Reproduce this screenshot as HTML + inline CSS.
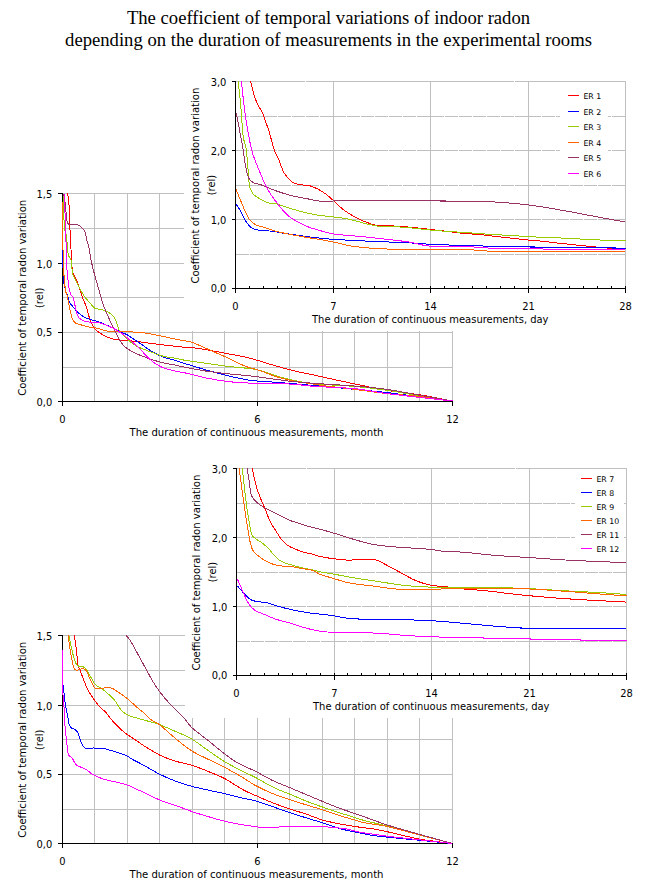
<!DOCTYPE html>
<html><head><meta charset="utf-8"><title>Coefficient of temporal variations of indoor radon</title>
<style>
html,body{margin:0;padding:0;background:#fff;}
body{width:646px;height:896px;overflow:hidden;position:relative;}
.title{position:absolute;left:0;width:657px;top:7px;text-align:center;font-family:'Liberation Serif','Times New Roman',serif;font-size:18.67px;line-height:21.7px;color:#000;}
.title div{white-space:nowrap;}
svg{position:absolute;left:0;top:0;}
svg text{font-family:'DejaVu Sans Condensed', 'DejaVu Sans', 'Liberation Sans', sans-serif;fill:#000;}
</style></head><body>
<div class="title"><div>The coefficient of temporal variations of indoor radon</div><div>depending on the duration of measurements in the experimental rooms</div></div>
<svg width="646" height="896" viewBox="0 0 646 896">
<rect x="63" y="193" width="390" height="1" fill="#C0C0C0"/>
<rect x="63" y="228" width="390" height="1" fill="#C0C0C0"/>
<rect x="63" y="263" width="390" height="1" fill="#C0C0C0"/>
<rect x="63" y="297" width="390" height="1" fill="#C0C0C0"/>
<rect x="63" y="332" width="390" height="1" fill="#C0C0C0"/>
<rect x="63" y="367" width="390" height="1" fill="#C0C0C0"/>
<rect x="94" y="193" width="1" height="208" fill="#C0C0C0"/>
<rect x="127" y="193" width="1" height="208" fill="#C0C0C0"/>
<rect x="159" y="193" width="1" height="208" fill="#C0C0C0"/>
<rect x="192" y="193" width="1" height="208" fill="#C0C0C0"/>
<rect x="224" y="193" width="1" height="208" fill="#C0C0C0"/>
<rect x="257" y="193" width="1" height="208" fill="#C0C0C0"/>
<rect x="289" y="193" width="1" height="208" fill="#C0C0C0"/>
<rect x="322" y="193" width="1" height="208" fill="#C0C0C0"/>
<rect x="354" y="193" width="1" height="208" fill="#C0C0C0"/>
<rect x="387" y="193" width="1" height="208" fill="#C0C0C0"/>
<rect x="419" y="193" width="1" height="208" fill="#C0C0C0"/>
<rect x="452" y="193" width="1" height="208" fill="#C0C0C0"/>
<rect x="62" y="193" width="1" height="213" fill="#000"/>
<rect x="58" y="401" width="395" height="1" fill="#000"/>
<rect x="58" y="193" width="4" height="1" fill="#000"/>
<rect x="58" y="263" width="4" height="1" fill="#000"/>
<rect x="58" y="332" width="4" height="1" fill="#000"/>
<rect x="58" y="401" width="4" height="1" fill="#000"/>
<rect x="257" y="402" width="1" height="4" fill="#000"/>
<rect x="452" y="402" width="1" height="4" fill="#000"/>
<path d="M67.3,193.5L68.4,197L68.6,204.7L69.5,206L69.6,229.5L70.4,230.5L71,249.4L71.5,260.8C71.73,262.82 72.05,269.65 72.9,272.9C73.75,276.15 75.37,277.37 76.6,280.3C77.83,283.23 79.22,287.4 80.3,290.5C81.38,293.6 82.02,295.97 83.1,298.9C84.18,301.83 85.72,304.85 86.8,308.1C87.88,311.35 88.3,315.03 89.6,318.4C90.9,321.77 92.73,325.75 94.6,328.3C96.47,330.85 97.7,331.9 100.8,333.7C103.9,335.5 108.8,337.93 113.2,339.1C117.6,340.27 123.33,340.32 127.2,340.7C131.07,341.08 130.98,340.77 136.4,341.4C141.82,342.03 151.6,343.52 159.7,344.5C167.8,345.48 179.33,346.75 185,347.3C190.67,347.85 189.37,347.25 193.7,347.8C198.03,348.35 205.23,349.6 211,350.6C216.77,351.6 221.8,352.53 228.3,353.8C234.8,355.07 242.77,356.38 250,358.2C257.23,360.02 264.47,362.62 271.7,364.7C278.93,366.78 286.18,368.93 293.4,370.7C300.62,372.47 304.9,373.12 315,375.3C325.1,377.48 342.08,381.3 354,383.8C365.92,386.3 375.67,388.48 386.5,390.3C397.33,392.12 408,392.92 419,394.7C430,396.48 446.92,399.95 452.5,401" fill="none" stroke="#FF0000" stroke-width="1.0" shape-rendering="crispEdges"/>
<path d="M62.5,250L62.5,267L63.5,268L63.5,281.8L64.5,285.8L64.5,287.2L65.5,288.8L65.5,291C65.87,291.83 67.1,294.23 67.7,296C68.3,297.77 68.4,300.03 69.1,301.6C69.8,303.17 70.82,304 71.9,305.4C72.98,306.8 74.35,308.62 75.6,310C76.85,311.38 77.85,312.47 79.4,313.7C80.95,314.93 83.05,316.42 84.9,317.4C86.75,318.38 88.1,318.82 90.5,319.6C92.9,320.38 96.28,321.03 99.3,322.1C102.32,323.17 105.25,324.45 108.6,326C111.95,327.55 116.3,329.92 119.4,331.4C122.5,332.88 123.85,332.97 127.2,334.9C130.55,336.83 135.38,340.23 139.5,343C143.62,345.77 148.02,349.18 151.9,351.5C155.78,353.82 158.67,355.35 162.8,356.9C166.93,358.45 173,359.68 176.7,360.8C180.4,361.92 180,362.05 185,363.6C190,365.15 199.48,368.05 206.7,370.1C213.92,372.15 221.08,374.2 228.3,375.9C235.52,377.6 242.77,379.28 250,380.3C257.23,381.32 264.47,381.43 271.7,382C278.93,382.57 286.18,383.1 293.4,383.7C300.62,384.3 304.9,384.67 315,385.6C325.1,386.53 342.08,388.15 354,389.3C365.92,390.45 375.67,391.25 386.5,392.5C397.33,393.75 408,395.38 419,396.8C430,398.22 446.92,400.3 452.5,401" fill="none" stroke="#0000FF" stroke-width="1.0" shape-rendering="crispEdges"/>
<path d="M63.2,193.5L63.2,219.5C63.4,219.67 64.2,220.33 64.4,220.5L64.4,229.5C64.73,230.5 66.07,234.5 66.4,235.5L67.3,245L68.2,255.2C68.75,256.13 70.95,259.87 71.5,260.8L71.9,268.2L72.9,274.7C73.52,275.93 75.37,279.62 76.6,282.1C77.83,284.58 78.92,287.12 80.3,289.6C81.68,292.08 83.2,294.68 84.9,297C86.6,299.32 88.88,301.63 90.5,303.5C92.12,305.37 93.2,307.27 94.6,308.2C96,309.13 97.27,308.72 98.9,309.1C100.53,309.48 102.7,309.88 104.4,310.5C106.1,311.12 107.37,311.52 109.1,312.8C110.83,314.08 113.08,315.23 114.8,318.2C116.52,321.17 117.33,327.12 119.4,330.6C121.47,334.08 124.37,336.52 127.2,339.1C130.03,341.68 132.28,343.9 136.4,346.1C140.52,348.3 147.5,350.63 151.9,352.3C156.3,353.97 158.67,355.07 162.8,356.1C166.93,357.13 173,357.8 176.7,358.5C180.4,359.2 181.45,359.7 185,360.3C188.55,360.9 190.78,361.08 198,362.1C205.22,363.12 219.63,365.32 228.3,366.4C236.97,367.48 244.57,367.88 250,368.6C255.43,369.32 255.48,369.18 260.9,370.7C266.32,372.22 275.65,375.82 282.5,377.7C289.35,379.58 296.58,380.95 302,382C307.42,383.05 306.33,383.27 315,384C323.67,384.73 342.08,385.37 354,386.4C365.92,387.43 375.67,388.63 386.5,390.2C397.33,391.77 408,394 419,395.8C430,397.6 446.92,400.13 452.5,401" fill="none" stroke="#99CC00" stroke-width="1.0" shape-rendering="crispEdges"/>
<path d="M62.5,202L62.5,249.8L63.5,250.2L63.5,275L64.5,275.5L64.5,286L65.5,286.5L65.5,291.5C65.72,291.95 66.35,292.67 66.8,294.2C67.25,295.73 67.73,298.38 68.2,300.7C68.67,303.02 68.98,305.32 69.6,308.1C70.22,310.88 71.05,315 71.9,317.4C72.75,319.8 73.45,321.33 74.7,322.5C75.95,323.67 76.85,323.62 79.4,324.4C81.95,325.18 86.95,326.55 90,327.2C93.05,327.85 94.6,327.6 97.7,328.3C100.8,329 103.68,330.83 108.6,331.4C113.52,331.97 121.27,331.45 127.2,331.7C133.13,331.95 138.78,332.23 144.2,332.9C149.62,333.57 154.55,334.67 159.7,335.7C164.85,336.73 170.88,338.25 175.1,339.1C179.32,339.95 181.9,340.15 185,340.8C188.1,341.45 189.37,341.37 193.7,343C198.03,344.63 205.23,348.07 211,350.6C216.77,353.13 222.52,355.57 228.3,358.2C234.08,360.83 240.63,364.42 245.7,366.4C250.77,368.38 253.65,368.4 258.7,370.1C263.75,371.8 270.22,374.8 276,376.6C281.78,378.4 287.62,379.72 293.4,380.9C299.18,382.08 305.43,382.87 310.7,383.7C315.97,384.53 317.78,384.97 325,385.9C332.22,386.83 343.75,388.02 354,389.3C364.25,390.58 375.67,392.42 386.5,393.6C397.33,394.78 408,395.17 419,396.4C430,397.63 446.92,400.23 452.5,401" fill="none" stroke="#FF6600" stroke-width="1.0" shape-rendering="crispEdges"/>
<path d="M63.6,193.5C63.9,195.25 65.1,202.25 65.4,204L66,212L66.4,219.5C66.67,220.17 67.73,222.83 68,223.5L69,224.5C70.29,224.5 74.45,223.82 76.75,224.5C79.05,225.18 81.34,227.1 82.8,228.6C84.26,230.1 84.72,231 85.5,233.5C86.28,236 87.17,241.92 87.5,243.6L88.6,245C89.07,247.78 90.32,256.43 91.4,261.7C92.48,266.97 93.85,271.95 95.1,276.6C96.35,281.25 97.65,285.27 98.9,289.6C100.15,293.93 101.5,299.12 102.6,302.6C103.7,306.08 103.98,306.87 105.5,310.5C107.02,314.13 109.63,320.02 111.7,324.4C113.77,328.78 115.83,333.18 117.9,336.8C119.97,340.42 121.27,343.4 124.1,346.1C126.93,348.8 130.78,350.93 134.9,353C139.02,355.07 144.42,356.95 148.8,358.5C153.18,360.05 156.55,361.15 161.2,362.3C165.85,363.45 172.73,364.57 176.7,365.4C180.67,366.23 180,366.33 185,367.3C190,368.27 199.48,370.12 206.7,371.2C213.92,372.28 221.08,373.02 228.3,373.8C235.52,374.58 242.77,375.07 250,375.9C257.23,376.73 264.47,377.85 271.7,378.8C278.93,379.75 286.18,380.83 293.4,381.6C300.62,382.37 304.9,382.67 315,383.4C325.1,384.13 342.08,385.02 354,386C365.92,386.98 375.67,387.78 386.5,389.3C397.33,390.82 408,393.15 419,395.1C430,397.05 446.92,400.02 452.5,401" fill="none" stroke="#993366" stroke-width="1.0" shape-rendering="crispEdges"/>
<path d="M64.4,193.5L64.4,212L65.2,213L65.2,238C65.4,238.93 66.2,242.67 66.4,243.6L66.8,268.2L67.7,277.5C67.93,279.35 68.55,285.67 69.1,288.6C69.65,291.53 70.3,293.55 71,295.1C71.7,296.65 72.6,296.03 73.3,297.9C74,299.77 74.5,303.35 75.2,306.3C75.9,309.25 76.35,313.28 77.5,315.6C78.65,317.92 80.08,319.12 82.1,320.2C84.12,321.28 86.73,321.65 89.6,322.1C92.47,322.55 95.62,322 99.3,322.9C102.98,323.8 108.08,325.83 111.7,327.5C115.32,329.17 118.17,330.97 121,332.9C123.83,334.83 125.62,336.52 128.7,339.1C131.78,341.68 136.15,345.17 139.5,348.4C142.85,351.63 145.43,355.53 148.8,358.5C152.17,361.47 155.83,364.22 159.7,366.2C163.57,368.18 167.78,369.28 172,370.4C176.22,371.52 179.22,371.62 185,372.9C190.78,374.18 199.48,376.65 206.7,378.1C213.92,379.55 221.08,380.77 228.3,381.6C235.52,382.43 242.77,382.75 250,383.1C257.23,383.45 264.47,383.52 271.7,383.7C278.93,383.88 286.18,383.75 293.4,384.2C300.62,384.65 304.9,385.67 315,386.4C325.1,387.13 342.08,387.42 354,388.6C365.92,389.78 375.67,392.05 386.5,393.5C397.33,394.95 408,396.05 419,397.3C430,398.55 446.92,400.38 452.5,401" fill="none" stroke="#FF00FF" stroke-width="1.0" shape-rendering="crispEdges"/>
<text x="52.2" y="198" font-size="11" text-anchor="end">1,5</text>
<text x="52.2" y="267.5" font-size="11" text-anchor="end">1,0</text>
<text x="52.2" y="336.4" font-size="11" text-anchor="end">0,5</text>
<text x="52.2" y="405.8" font-size="11" text-anchor="end">0,0</text>
<text x="62.5" y="423" font-size="11" text-anchor="middle">0</text>
<text x="257.5" y="423" font-size="11" text-anchor="middle">6</text>
<text x="452.5" y="423" font-size="11" text-anchor="middle">12</text>
<text x="129.5" y="436" font-size="11" text-anchor="start" textLength="254" lengthAdjust="spacingAndGlyphs">The duration of continuous measurements, month</text>
<text transform="translate(26.1,297.8) rotate(-90)" font-size="11" text-anchor="middle" textLength="196" lengthAdjust="spacingAndGlyphs">Coefficient of temporal radon variation</text>
<text transform="translate(42.6,297.8) rotate(-90)" font-size="11" text-anchor="middle">(rel)</text>
<rect x="184" y="60" width="462" height="271" fill="#fff"/>
<rect x="236" y="116" width="13" height="1" fill="#C0C0C0"/>
<rect x="250" y="116" width="13" height="1" fill="#C0C0C0"/>
<rect x="264" y="116" width="13" height="1" fill="#C0C0C0"/>
<rect x="278" y="116" width="13" height="1" fill="#C0C0C0"/>
<rect x="292" y="116" width="13" height="1" fill="#C0C0C0"/>
<rect x="306" y="116" width="13" height="1" fill="#C0C0C0"/>
<rect x="320" y="116" width="13" height="1" fill="#C0C0C0"/>
<rect x="334" y="116" width="12" height="1" fill="#C0C0C0"/>
<rect x="347" y="116" width="13" height="1" fill="#C0C0C0"/>
<rect x="361" y="116" width="13" height="1" fill="#C0C0C0"/>
<rect x="375" y="116" width="13" height="1" fill="#C0C0C0"/>
<rect x="389" y="116" width="13" height="1" fill="#C0C0C0"/>
<rect x="403" y="116" width="13" height="1" fill="#C0C0C0"/>
<rect x="417" y="116" width="13" height="1" fill="#C0C0C0"/>
<rect x="431" y="116" width="13" height="1" fill="#C0C0C0"/>
<rect x="445" y="116" width="13" height="1" fill="#C0C0C0"/>
<rect x="459" y="116" width="13" height="1" fill="#C0C0C0"/>
<rect x="473" y="116" width="13" height="1" fill="#C0C0C0"/>
<rect x="487" y="116" width="13" height="1" fill="#C0C0C0"/>
<rect x="501" y="116" width="13" height="1" fill="#C0C0C0"/>
<rect x="515" y="116" width="13" height="1" fill="#C0C0C0"/>
<rect x="529" y="116" width="12" height="1" fill="#C0C0C0"/>
<rect x="542" y="116" width="13" height="1" fill="#C0C0C0"/>
<rect x="556" y="116" width="13" height="1" fill="#C0C0C0"/>
<rect x="570" y="116" width="13" height="1" fill="#C0C0C0"/>
<rect x="584" y="116" width="13" height="1" fill="#C0C0C0"/>
<rect x="598" y="116" width="13" height="1" fill="#C0C0C0"/>
<rect x="612" y="116" width="13" height="1" fill="#C0C0C0"/>
<rect x="236" y="150" width="13" height="1" fill="#C0C0C0"/>
<rect x="250" y="150" width="13" height="1" fill="#C0C0C0"/>
<rect x="264" y="150" width="13" height="1" fill="#C0C0C0"/>
<rect x="278" y="150" width="13" height="1" fill="#C0C0C0"/>
<rect x="292" y="150" width="13" height="1" fill="#C0C0C0"/>
<rect x="306" y="150" width="13" height="1" fill="#C0C0C0"/>
<rect x="320" y="150" width="13" height="1" fill="#C0C0C0"/>
<rect x="334" y="150" width="12" height="1" fill="#C0C0C0"/>
<rect x="347" y="150" width="13" height="1" fill="#C0C0C0"/>
<rect x="361" y="150" width="13" height="1" fill="#C0C0C0"/>
<rect x="375" y="150" width="13" height="1" fill="#C0C0C0"/>
<rect x="389" y="150" width="13" height="1" fill="#C0C0C0"/>
<rect x="403" y="150" width="13" height="1" fill="#C0C0C0"/>
<rect x="417" y="150" width="13" height="1" fill="#C0C0C0"/>
<rect x="431" y="150" width="13" height="1" fill="#C0C0C0"/>
<rect x="445" y="150" width="13" height="1" fill="#C0C0C0"/>
<rect x="459" y="150" width="13" height="1" fill="#C0C0C0"/>
<rect x="473" y="150" width="13" height="1" fill="#C0C0C0"/>
<rect x="487" y="150" width="13" height="1" fill="#C0C0C0"/>
<rect x="501" y="150" width="13" height="1" fill="#C0C0C0"/>
<rect x="515" y="150" width="13" height="1" fill="#C0C0C0"/>
<rect x="529" y="150" width="12" height="1" fill="#C0C0C0"/>
<rect x="542" y="150" width="13" height="1" fill="#C0C0C0"/>
<rect x="556" y="150" width="13" height="1" fill="#C0C0C0"/>
<rect x="570" y="150" width="13" height="1" fill="#C0C0C0"/>
<rect x="584" y="150" width="13" height="1" fill="#C0C0C0"/>
<rect x="598" y="150" width="13" height="1" fill="#C0C0C0"/>
<rect x="612" y="150" width="13" height="1" fill="#C0C0C0"/>
<rect x="236" y="185" width="13" height="1" fill="#C0C0C0"/>
<rect x="250" y="185" width="13" height="1" fill="#C0C0C0"/>
<rect x="264" y="185" width="13" height="1" fill="#C0C0C0"/>
<rect x="278" y="185" width="13" height="1" fill="#C0C0C0"/>
<rect x="292" y="185" width="13" height="1" fill="#C0C0C0"/>
<rect x="306" y="185" width="13" height="1" fill="#C0C0C0"/>
<rect x="320" y="185" width="13" height="1" fill="#C0C0C0"/>
<rect x="334" y="185" width="12" height="1" fill="#C0C0C0"/>
<rect x="347" y="185" width="13" height="1" fill="#C0C0C0"/>
<rect x="361" y="185" width="13" height="1" fill="#C0C0C0"/>
<rect x="375" y="185" width="13" height="1" fill="#C0C0C0"/>
<rect x="389" y="185" width="13" height="1" fill="#C0C0C0"/>
<rect x="403" y="185" width="13" height="1" fill="#C0C0C0"/>
<rect x="417" y="185" width="13" height="1" fill="#C0C0C0"/>
<rect x="431" y="185" width="13" height="1" fill="#C0C0C0"/>
<rect x="445" y="185" width="13" height="1" fill="#C0C0C0"/>
<rect x="459" y="185" width="13" height="1" fill="#C0C0C0"/>
<rect x="473" y="185" width="13" height="1" fill="#C0C0C0"/>
<rect x="487" y="185" width="13" height="1" fill="#C0C0C0"/>
<rect x="501" y="185" width="13" height="1" fill="#C0C0C0"/>
<rect x="515" y="185" width="13" height="1" fill="#C0C0C0"/>
<rect x="529" y="185" width="12" height="1" fill="#C0C0C0"/>
<rect x="542" y="185" width="13" height="1" fill="#C0C0C0"/>
<rect x="556" y="185" width="13" height="1" fill="#C0C0C0"/>
<rect x="570" y="185" width="13" height="1" fill="#C0C0C0"/>
<rect x="584" y="185" width="13" height="1" fill="#C0C0C0"/>
<rect x="598" y="185" width="13" height="1" fill="#C0C0C0"/>
<rect x="612" y="185" width="13" height="1" fill="#C0C0C0"/>
<rect x="236" y="219" width="13" height="1" fill="#C0C0C0"/>
<rect x="250" y="219" width="13" height="1" fill="#C0C0C0"/>
<rect x="264" y="219" width="13" height="1" fill="#C0C0C0"/>
<rect x="278" y="219" width="13" height="1" fill="#C0C0C0"/>
<rect x="292" y="219" width="13" height="1" fill="#C0C0C0"/>
<rect x="306" y="219" width="13" height="1" fill="#C0C0C0"/>
<rect x="320" y="219" width="13" height="1" fill="#C0C0C0"/>
<rect x="334" y="219" width="12" height="1" fill="#C0C0C0"/>
<rect x="347" y="219" width="13" height="1" fill="#C0C0C0"/>
<rect x="361" y="219" width="13" height="1" fill="#C0C0C0"/>
<rect x="375" y="219" width="13" height="1" fill="#C0C0C0"/>
<rect x="389" y="219" width="13" height="1" fill="#C0C0C0"/>
<rect x="403" y="219" width="13" height="1" fill="#C0C0C0"/>
<rect x="417" y="219" width="13" height="1" fill="#C0C0C0"/>
<rect x="431" y="219" width="13" height="1" fill="#C0C0C0"/>
<rect x="445" y="219" width="13" height="1" fill="#C0C0C0"/>
<rect x="459" y="219" width="13" height="1" fill="#C0C0C0"/>
<rect x="473" y="219" width="13" height="1" fill="#C0C0C0"/>
<rect x="487" y="219" width="13" height="1" fill="#C0C0C0"/>
<rect x="501" y="219" width="13" height="1" fill="#C0C0C0"/>
<rect x="515" y="219" width="13" height="1" fill="#C0C0C0"/>
<rect x="529" y="219" width="12" height="1" fill="#C0C0C0"/>
<rect x="542" y="219" width="13" height="1" fill="#C0C0C0"/>
<rect x="556" y="219" width="13" height="1" fill="#C0C0C0"/>
<rect x="570" y="219" width="13" height="1" fill="#C0C0C0"/>
<rect x="584" y="219" width="13" height="1" fill="#C0C0C0"/>
<rect x="598" y="219" width="13" height="1" fill="#C0C0C0"/>
<rect x="612" y="219" width="13" height="1" fill="#C0C0C0"/>
<rect x="236" y="254" width="13" height="1" fill="#C0C0C0"/>
<rect x="250" y="254" width="13" height="1" fill="#C0C0C0"/>
<rect x="264" y="254" width="13" height="1" fill="#C0C0C0"/>
<rect x="278" y="254" width="13" height="1" fill="#C0C0C0"/>
<rect x="292" y="254" width="13" height="1" fill="#C0C0C0"/>
<rect x="306" y="254" width="13" height="1" fill="#C0C0C0"/>
<rect x="320" y="254" width="13" height="1" fill="#C0C0C0"/>
<rect x="334" y="254" width="12" height="1" fill="#C0C0C0"/>
<rect x="347" y="254" width="13" height="1" fill="#C0C0C0"/>
<rect x="361" y="254" width="13" height="1" fill="#C0C0C0"/>
<rect x="375" y="254" width="13" height="1" fill="#C0C0C0"/>
<rect x="389" y="254" width="13" height="1" fill="#C0C0C0"/>
<rect x="403" y="254" width="13" height="1" fill="#C0C0C0"/>
<rect x="417" y="254" width="13" height="1" fill="#C0C0C0"/>
<rect x="431" y="254" width="13" height="1" fill="#C0C0C0"/>
<rect x="445" y="254" width="13" height="1" fill="#C0C0C0"/>
<rect x="459" y="254" width="13" height="1" fill="#C0C0C0"/>
<rect x="473" y="254" width="13" height="1" fill="#C0C0C0"/>
<rect x="487" y="254" width="13" height="1" fill="#C0C0C0"/>
<rect x="501" y="254" width="13" height="1" fill="#C0C0C0"/>
<rect x="515" y="254" width="13" height="1" fill="#C0C0C0"/>
<rect x="529" y="254" width="12" height="1" fill="#C0C0C0"/>
<rect x="542" y="254" width="13" height="1" fill="#C0C0C0"/>
<rect x="556" y="254" width="13" height="1" fill="#C0C0C0"/>
<rect x="570" y="254" width="13" height="1" fill="#C0C0C0"/>
<rect x="584" y="254" width="13" height="1" fill="#C0C0C0"/>
<rect x="598" y="254" width="13" height="1" fill="#C0C0C0"/>
<rect x="612" y="254" width="13" height="1" fill="#C0C0C0"/>
<rect x="236" y="81" width="69" height="1" fill="#C0C0C0"/>
<rect x="306" y="81" width="208" height="1" fill="#C0C0C0"/>
<rect x="515" y="81" width="111" height="1" fill="#C0C0C0"/>
<rect x="333" y="81" width="1" height="207" fill="#C0C0C0"/>
<rect x="430" y="81" width="1" height="207" fill="#C0C0C0"/>
<rect x="528" y="81" width="1" height="207" fill="#C0C0C0"/>
<rect x="625" y="81" width="1" height="207" fill="#C0C0C0"/>
<rect x="560" y="86" width="48" height="95" fill="#fff"/>
<rect x="235" y="81" width="1" height="212" fill="#000"/>
<rect x="232" y="288" width="394" height="1" fill="#000"/>
<rect x="232" y="81" width="3" height="1" fill="#000"/>
<rect x="232" y="150" width="3" height="1" fill="#000"/>
<rect x="232" y="219" width="3" height="1" fill="#000"/>
<rect x="232" y="288" width="3" height="1" fill="#000"/>
<rect x="249" y="286" width="1" height="2" fill="#000"/>
<rect x="263" y="286" width="1" height="2" fill="#000"/>
<rect x="277" y="286" width="1" height="2" fill="#000"/>
<rect x="291" y="286" width="1" height="2" fill="#000"/>
<rect x="305" y="286" width="1" height="2" fill="#000"/>
<rect x="319" y="286" width="1" height="2" fill="#000"/>
<rect x="333" y="286" width="1" height="7" fill="#000"/>
<rect x="346" y="286" width="1" height="2" fill="#000"/>
<rect x="360" y="286" width="1" height="2" fill="#000"/>
<rect x="374" y="286" width="1" height="2" fill="#000"/>
<rect x="388" y="286" width="1" height="2" fill="#000"/>
<rect x="402" y="286" width="1" height="2" fill="#000"/>
<rect x="416" y="286" width="1" height="2" fill="#000"/>
<rect x="430" y="286" width="1" height="7" fill="#000"/>
<rect x="444" y="286" width="1" height="2" fill="#000"/>
<rect x="458" y="286" width="1" height="2" fill="#000"/>
<rect x="472" y="286" width="1" height="2" fill="#000"/>
<rect x="486" y="286" width="1" height="2" fill="#000"/>
<rect x="500" y="286" width="1" height="2" fill="#000"/>
<rect x="514" y="286" width="1" height="2" fill="#000"/>
<rect x="528" y="286" width="1" height="7" fill="#000"/>
<rect x="541" y="286" width="1" height="2" fill="#000"/>
<rect x="555" y="286" width="1" height="2" fill="#000"/>
<rect x="569" y="286" width="1" height="2" fill="#000"/>
<rect x="583" y="286" width="1" height="2" fill="#000"/>
<rect x="597" y="286" width="1" height="2" fill="#000"/>
<rect x="611" y="286" width="1" height="2" fill="#000"/>
<rect x="625" y="286" width="1" height="7" fill="#000"/>
<path d="M250.6,81C251.22,83.52 252.97,91.93 254.3,96.1C255.63,100.27 257.15,103.02 258.6,106C260.05,108.98 261.87,111.52 263,114C264.13,116.48 264.37,117.9 265.4,120.9C266.43,123.9 267.75,127.27 269.2,132C270.65,136.73 272.45,144.55 274.1,149.3C275.75,154.05 277.45,156.57 279.1,160.5C280.75,164.43 282.15,169.65 284,172.9C285.85,176.15 288.55,178.3 290.2,180C291.85,181.7 291.83,182.27 293.9,183.1C295.97,183.93 299.58,184.45 302.6,185C305.62,185.55 308.3,185.02 312,186.4C315.7,187.78 321.22,190.92 324.8,193.3C328.38,195.68 330.2,197.82 333.5,200.7C336.8,203.58 340.27,207.5 344.6,210.6C348.93,213.7 354.13,216.83 359.5,219.3C364.87,221.77 370.2,224.25 376.8,225.4C383.4,226.55 390.43,225.57 399.1,226.2C407.77,226.83 417.98,227.98 428.8,229.2C439.62,230.42 456.83,232.7 464,233.5C471.17,234.3 468.52,233.75 471.8,234C475.08,234.25 480.4,234.67 483.7,235C487,235.33 488.75,235.67 491.6,236C494.45,236.33 497.73,236.67 500.8,237C503.87,237.33 506.93,237.67 510,238C513.07,238.33 516.25,238.67 519.2,239C522.15,239.33 524.3,239.67 527.7,240C531.1,240.33 536.05,240.67 539.6,241C543.15,241.33 546.17,241.67 549,242C551.83,242.33 553.63,242.67 556.6,243C559.57,243.33 563.53,243.67 566.8,244C570.07,244.33 573.07,244.67 576.2,245C579.33,245.33 582.33,245.67 585.6,246C588.87,246.33 592.23,246.67 595.8,247C599.37,247.33 602.05,247.75 607,248C611.95,248.25 622.42,248.42 625.5,248.5" fill="none" stroke="#FF0000" stroke-width="1.0" shape-rendering="crispEdges"/>
<path d="M236,204.1C236.78,205.25 239.3,208.52 240.7,211C242.1,213.48 242.97,216.53 244.4,219C245.83,221.47 247.65,224.08 249.3,225.8C250.95,227.52 252.43,228.57 254.3,229.3C256.17,230.03 257.4,229.85 260.5,230.2C263.6,230.55 268.37,230.78 272.9,231.4C277.43,232.02 281.18,232.93 287.7,233.9C294.22,234.87 304.98,236.33 312,237.2C319.02,238.07 320.65,238.45 329.8,239.1C338.95,239.75 353.7,240.48 366.9,241.1C380.1,241.72 397.85,242.23 409,242.8C420.15,243.37 424.47,244.07 433.8,244.5C443.13,244.93 457.63,245.2 465,245.4C472.37,245.6 473.5,245.53 478,245.7C482.5,245.87 482.83,246.23 492,246.4C501.17,246.57 525.83,246.52 533,246.7C540.17,246.88 522.17,247.37 535,247.5C547.83,247.63 597,247.33 610,247.5C623,247.67 610.42,248.33 613,248.5C615.58,248.67 623.42,248.5 625.5,248.5" fill="none" stroke="#0000FF" stroke-width="1.0" shape-rendering="crispEdges"/>
<path d="M238.2,81C238.62,84.97 239.88,95.68 240.7,104.8C241.52,113.92 242.17,128.17 243.1,135.7C244.03,143.23 245.38,143.23 246.3,150C247.22,156.77 248.22,171.92 248.6,176.3L249.3,186.4C249.95,187.68 251.25,191.92 253.2,194.1C255.15,196.28 258.17,197.95 261,199.5C263.83,201.05 267.63,202.67 270.2,203.4C272.77,204.13 274.07,203.38 276.4,203.9C278.73,204.42 280.32,205.3 284.2,206.5C288.08,207.7 294.55,209.73 299.7,211.1C304.85,212.47 310.05,213.78 315.1,214.7C320.15,215.62 324.67,215.92 330,216.6C335.33,217.28 339.3,217.23 347.1,218.8C354.9,220.37 367.3,224.6 376.8,226C386.3,227.4 394.6,226.47 404.1,227.2C413.6,227.93 423.65,229.52 433.8,230.4C443.95,231.28 458.67,232.07 465,232.5C471.33,232.93 468.47,232.75 471.8,233C475.13,233.25 479.97,233.67 485,234C490.03,234.33 496.33,234.67 502,235C507.67,235.33 513.33,235.67 519,236C524.67,236.33 529,236.67 536,237C543,237.33 553.67,237.67 561,238C568.33,238.33 573.58,238.67 580,239C586.42,239.33 594.17,239.75 599.5,240C604.83,240.25 607.67,240.42 612,240.5C616.33,240.58 623.25,240.5 625.5,240.5" fill="none" stroke="#99CC00" stroke-width="1.0" shape-rendering="crispEdges"/>
<path d="M236,189.5C236.8,191.43 239.22,197.37 240.8,201.1C242.38,204.83 243.95,208.68 245.5,211.9C247.05,215.12 248.3,218.2 250.1,220.4C251.9,222.6 253.98,223.93 256.3,225.1C258.62,226.27 260.65,226.37 264,227.4C267.35,228.43 271.75,230.07 276.4,231.3C281.05,232.53 286.73,233.77 291.9,234.8C297.07,235.83 301.05,236.42 307.4,237.5C313.75,238.58 322.15,239.8 330,241.3C337.85,242.8 345.05,245.22 354.5,246.5C363.95,247.78 374.32,248.5 386.7,249C399.08,249.5 415.75,249.4 428.8,249.5C441.85,249.6 457.47,249.52 465,249.6C472.53,249.68 469.83,249.73 474,250C478.17,250.27 482.33,250.93 490,251.2C497.67,251.47 497.42,251.52 520,251.6C542.58,251.68 607.92,251.68 625.5,251.7" fill="none" stroke="#FF6600" stroke-width="1.0" shape-rendering="crispEdges"/>
<path d="M236.3,112.8C236.82,115.58 238.25,123.3 239.4,129.5C240.55,135.7 242.18,144 243.2,150C244.22,156 244.6,160.85 245.5,165.5C246.4,170.15 247.32,175.07 248.6,177.9C249.88,180.73 251.13,181.35 253.2,182.5C255.27,183.65 258.67,184.02 261,184.8C263.33,185.58 264.63,186.17 267.2,187.2C269.77,188.23 272.28,189.58 276.4,191C280.52,192.42 286.73,194.4 291.9,195.7C297.07,197 302.75,197.9 307.4,198.8C312.05,199.7 316.03,200.67 319.8,201.1C323.57,201.53 325.45,201.55 330,201.4C334.55,201.25 328.98,200.4 347.1,200.2C365.22,200 423.02,200 438.7,200.2C454.38,200.4 436.82,201.22 441.2,201.4C445.58,201.58 456.78,201.25 465,201.3C473.22,201.35 479.85,201.08 490.5,201.7C501.15,202.32 516.12,203.42 528.9,205C541.68,206.58 555.72,209.2 567.2,211.2C578.68,213.2 588.08,215.18 597.8,217C607.52,218.82 620.88,221.25 625.5,222.1" fill="none" stroke="#993366" stroke-width="1.0" shape-rendering="crispEdges"/>
<path d="M241.3,81C242.02,87.03 243.87,105.7 245.6,117.2C247.33,128.7 249.78,141.95 251.7,150C253.62,158.05 255.47,161.17 257.1,165.5C258.73,169.83 260.08,172.65 261.5,176C262.92,179.35 263.93,182.35 265.6,185.6C267.27,188.85 269.43,192.4 271.5,195.5C273.57,198.6 275.37,200.95 278,204.2C280.63,207.45 284.2,212.17 287.3,215C290.4,217.83 293.25,219.27 296.6,221.2C299.95,223.13 303.53,225.05 307.4,226.6C311.27,228.15 315.25,229.25 319.8,230.5C324.35,231.75 326.85,233 334.7,234.1C342.55,235.2 354.52,235.78 366.9,237.1C379.28,238.42 398.68,240.52 409,242C419.32,243.48 419.47,245.2 428.8,246C438.13,246.8 457.13,246.62 465,246.8C472.87,246.98 471.83,246.88 476,247.1C480.17,247.32 481,247.87 490,248.1C499,248.33 519.67,248.32 530,248.5C540.33,248.68 536.08,249.03 552,249.2C567.92,249.37 613.25,249.45 625.5,249.5" fill="none" stroke="#FF00FF" stroke-width="1.0" shape-rendering="crispEdges"/>
<text x="226.4" y="86" font-size="11" text-anchor="end">3,0</text>
<text x="226.4" y="155" font-size="11" text-anchor="end">2,0</text>
<text x="226.4" y="224" font-size="11" text-anchor="end">1,0</text>
<text x="226.4" y="292" font-size="11" text-anchor="end">0,0</text>
<text x="235.5" y="310" font-size="11" text-anchor="middle">0</text>
<text x="333.5" y="310" font-size="11" text-anchor="middle">7</text>
<text x="430.5" y="310" font-size="11" text-anchor="middle">14</text>
<text x="528.5" y="310" font-size="11" text-anchor="middle">21</text>
<text x="625.5" y="310" font-size="11" text-anchor="middle">28</text>
<text x="312" y="322.8" font-size="11" text-anchor="start" textLength="236.5" lengthAdjust="spacingAndGlyphs">The duration of continuous measurements, day</text>
<text transform="translate(199.3,185.6) rotate(-90)" font-size="11" text-anchor="middle" textLength="196" lengthAdjust="spacingAndGlyphs">Coefficient of temporal radon variation</text>
<text transform="translate(215.2,185.1) rotate(-90)" font-size="11" text-anchor="middle">(rel)</text>
<rect x="568" y="95" width="11" height="1" fill="#FF0000"/>
<text x="583.4" y="99" font-size="7.8" text-anchor="start" style="font-family:'DejaVu Sans', sans-serif">ER 1</text>
<rect x="568" y="111" width="11" height="1" fill="#0000FF"/>
<text x="583.4" y="115" font-size="7.8" text-anchor="start" style="font-family:'DejaVu Sans', sans-serif">ER 2</text>
<rect x="568" y="126" width="11" height="1" fill="#99CC00"/>
<text x="583.4" y="130" font-size="7.8" text-anchor="start" style="font-family:'DejaVu Sans', sans-serif">ER 3</text>
<rect x="568" y="142" width="11" height="1" fill="#FF6600"/>
<text x="583.4" y="146" font-size="7.8" text-anchor="start" style="font-family:'DejaVu Sans', sans-serif">ER 4</text>
<rect x="568" y="157" width="11" height="1" fill="#993366"/>
<text x="583.4" y="161" font-size="7.8" text-anchor="start" style="font-family:'DejaVu Sans', sans-serif">ER 5</text>
<rect x="568" y="173" width="11" height="1" fill="#FF00FF"/>
<text x="583.4" y="177" font-size="7.8" text-anchor="start" style="font-family:'DejaVu Sans', sans-serif">ER 6</text>
<rect x="63" y="635" width="390" height="1" fill="#C0C0C0"/>
<rect x="63" y="670" width="390" height="1" fill="#C0C0C0"/>
<rect x="63" y="705" width="390" height="1" fill="#C0C0C0"/>
<rect x="63" y="739" width="390" height="1" fill="#C0C0C0"/>
<rect x="63" y="774" width="390" height="1" fill="#C0C0C0"/>
<rect x="63" y="809" width="390" height="1" fill="#C0C0C0"/>
<rect x="94" y="635" width="1" height="208" fill="#C0C0C0"/>
<rect x="127" y="635" width="1" height="208" fill="#C0C0C0"/>
<rect x="159" y="635" width="1" height="208" fill="#C0C0C0"/>
<rect x="192" y="635" width="1" height="208" fill="#C0C0C0"/>
<rect x="224" y="635" width="1" height="208" fill="#C0C0C0"/>
<rect x="257" y="635" width="1" height="208" fill="#C0C0C0"/>
<rect x="289" y="635" width="1" height="208" fill="#C0C0C0"/>
<rect x="322" y="635" width="1" height="208" fill="#C0C0C0"/>
<rect x="354" y="635" width="1" height="208" fill="#C0C0C0"/>
<rect x="387" y="635" width="1" height="208" fill="#C0C0C0"/>
<rect x="419" y="635" width="1" height="208" fill="#C0C0C0"/>
<rect x="452" y="635" width="1" height="208" fill="#C0C0C0"/>
<rect x="62" y="635" width="1" height="213" fill="#000"/>
<rect x="58" y="843" width="395" height="1" fill="#000"/>
<rect x="58" y="635" width="4" height="1" fill="#000"/>
<rect x="58" y="705" width="4" height="1" fill="#000"/>
<rect x="58" y="774" width="4" height="1" fill="#000"/>
<rect x="58" y="843" width="4" height="1" fill="#000"/>
<rect x="257" y="844" width="1" height="4" fill="#000"/>
<rect x="452" y="844" width="1" height="4" fill="#000"/>
<path d="M74.3,635.5C74.68,638.1 76.02,646.23 76.6,651.1C77.18,655.97 77.18,661.4 77.8,664.7C78.42,668 78.65,666.78 80.3,670.9C81.95,675.02 84.82,683.83 87.7,689.4C90.58,694.97 94.62,700.5 97.6,704.3C100.58,708.1 103.53,709.93 105.6,712.2C107.67,714.47 108.18,715.77 110,717.9C111.82,720.03 114.02,722.52 116.5,725C118.98,727.48 121.65,730.25 124.9,732.8C128.15,735.35 132.52,737.93 136,740.3C139.48,742.67 141.77,744.5 145.8,747C149.83,749.5 155.12,752.9 160.2,755.3C165.28,757.7 170.93,759.72 176.3,761.4C181.67,763.08 186.7,763.57 192.4,765.4C198.1,767.23 205.13,770.22 210.5,772.4C215.87,774.58 219.23,775.63 224.6,778.5C229.97,781.37 237.63,786.8 242.7,789.6C247.77,792.4 249.85,793.03 255,795.3C260.15,797.57 267.87,800.95 273.6,803.2C279.33,805.45 283.83,806.93 289.4,808.8C294.97,810.67 301.5,812.53 307,814.4C312.5,816.27 317.13,818.45 322.4,820C327.67,821.55 333.2,822.62 338.6,823.7C344,824.78 348.73,825.58 354.8,826.5C360.87,827.42 369.55,828.32 375,829.2C380.45,830.08 380.05,830.15 387.5,831.8C394.95,833.45 408.87,837.15 419.7,839.1C430.53,841.05 447.03,842.77 452.5,843.5" fill="none" stroke="#FF0000" stroke-width="1.0" shape-rendering="crispEdges"/>
<path d="M63,685.1C63.2,686.65 63.8,691.2 64.2,694.4C64.6,697.6 64.88,701 65.4,704.3C65.92,707.6 66.68,710.9 67.3,714.2C67.92,717.5 68.45,721.83 69.1,724.1C69.75,726.37 70.27,726.95 71.2,727.8C72.13,728.65 73.53,728.27 74.7,729.2C75.87,730.13 77.15,731.32 78.2,733.4C79.25,735.48 79.83,739.27 81,741.7C82.17,744.13 83,746.95 85.2,748C87.4,749.05 91.07,747.88 94.2,748C97.33,748.12 101.45,748.35 104,748.7C106.55,749.05 107.18,749.45 109.5,750.1C111.82,750.75 115.1,751.68 117.9,752.6C120.7,753.52 123.75,754.4 126.3,755.6C128.85,756.8 130.57,758.33 133.2,759.8C135.83,761.27 137.6,761.95 142.1,764.4C146.6,766.85 154.5,771.65 160.2,774.5C165.9,777.35 170.93,779.5 176.3,781.5C181.67,783.5 186.7,784.98 192.4,786.5C198.1,788.02 205.13,789.42 210.5,790.6C215.87,791.78 219.23,792.33 224.6,793.6C229.97,794.87 237.63,797 242.7,798.2C247.77,799.4 249.85,799.33 255,800.8C260.15,802.27 267.87,805.05 273.6,807C279.33,808.95 283.83,810.65 289.4,812.5C294.97,814.35 301.5,816.4 307,818.1C312.5,819.8 317.13,821 322.4,822.7C327.67,824.4 333.2,826.75 338.6,828.3C344,829.85 349.53,830.88 354.8,832C360.07,833.12 364.75,834.13 370.2,835C375.65,835.87 379.25,836.32 387.5,837.2C395.75,838.08 408.87,839.25 419.7,840.3C430.53,841.35 447.03,842.97 452.5,843.5" fill="none" stroke="#0000FF" stroke-width="1.0" shape-rendering="crispEdges"/>
<path d="M68.9,635.5C69.35,637.68 70.53,644.15 71.6,648.6C72.67,653.05 74.07,659.25 75.3,662.2C76.53,665.15 77.75,665.58 79,666.3C80.25,667.02 81.55,665.95 82.8,666.5C84.05,667.05 85.17,667.83 86.5,669.6C87.83,671.37 89.35,674.62 90.8,677.1C92.25,679.58 93.45,682.65 95.2,684.5C96.95,686.35 99.1,686.6 101.3,688.2C103.5,689.8 106.07,691.95 108.4,694.1C110.73,696.25 113.45,698.78 115.3,701.1C117.15,703.42 117.87,705.92 119.5,708C121.13,710.08 123.02,712.17 125.1,713.6C127.18,715.03 128.83,715.52 132,716.6C135.17,717.68 139.73,718.85 144.1,720.1C148.47,721.35 152.83,722.15 158.2,724.1C163.57,726.05 170.93,729.45 176.3,731.8C181.67,734.15 185.37,735.28 190.4,738.2C195.43,741.12 201.13,745.6 206.5,749.3C211.87,753 216.9,756.88 222.6,760.4C228.3,763.92 235.3,767.6 240.7,770.4C246.1,773.2 249.52,774.35 255,777.2C260.48,780.05 267.87,784.7 273.6,787.5C279.33,790.3 283.83,791.68 289.4,794C294.97,796.32 301.5,799.23 307,801.4C312.5,803.57 317.13,805.15 322.4,807C327.67,808.85 333.2,810.75 338.6,812.5C344,814.25 350.4,816.13 354.8,817.5C359.2,818.87 359.55,819.25 365,820.7C370.45,822.15 378.38,823.82 387.5,826.2C396.62,828.58 408.87,832.12 419.7,835C430.53,837.88 447.03,842.08 452.5,843.5" fill="none" stroke="#99CC00" stroke-width="1.0" shape-rendering="crispEdges"/>
<path d="M68.2,635.5C68.47,637.47 69.23,643.47 69.8,647.3C70.37,651.13 70.88,654.98 71.6,658.5C72.32,662.02 73.27,666.45 74.1,668.4C74.93,670.35 75.67,670.03 76.6,670.2C77.53,670.37 78.57,669.67 79.7,669.4C80.83,669.13 82.27,668.35 83.4,668.6C84.53,668.85 85.37,669.08 86.5,670.9C87.63,672.72 88.75,676.65 90.2,679.5C91.65,682.35 93.13,686.55 95.2,688C97.27,689.45 100.55,688.33 102.6,688.2C104.65,688.07 105.85,687.15 107.5,687.2C109.15,687.25 110.43,687.5 112.5,688.5C114.57,689.5 117.33,691.45 119.9,693.2C122.47,694.95 125.18,696.77 127.9,699C130.62,701.23 133.42,704.17 136.2,706.6C138.98,709.03 142.05,711.37 144.6,713.6C147.15,715.83 148.9,718.07 151.5,720C154.1,721.93 156.07,722 160.2,725.2C164.33,728.4 170.93,734.85 176.3,739.2C181.67,743.55 186.7,747.77 192.4,751.3C198.1,754.83 204.8,757.55 210.5,760.4C216.2,763.25 221.23,765.55 226.6,768.4C231.97,771.25 237.97,774.7 242.7,777.5C247.43,780.3 249.85,782.45 255,785.2C260.15,787.95 267.87,791.62 273.6,794C279.33,796.38 283.83,797.65 289.4,799.5C294.97,801.35 301.5,803.4 307,805.1C312.5,806.8 317.13,808 322.4,809.7C327.67,811.4 333.2,813.58 338.6,815.3C344,817.02 350.4,818.73 354.8,820C359.2,821.27 359.55,821.8 365,822.9C370.45,824 378.38,824.58 387.5,826.6C396.62,828.62 408.87,832.18 419.7,835C430.53,837.82 447.03,842.08 452.5,843.5" fill="none" stroke="#FF6600" stroke-width="1.0" shape-rendering="crispEdges"/>
<path d="M126.3,635.5C127.02,636.43 128.72,638.07 130.6,641.1C132.48,644.13 135.03,649.05 137.6,653.7C140.17,658.35 143.45,664.37 146,669C148.55,673.63 150.58,677.67 152.9,681.5C155.22,685.33 157.1,688.28 159.9,692C162.7,695.72 166.68,700.43 169.7,703.8C172.72,707.17 175.45,709.63 178,712.2C180.55,714.77 182.6,716.53 185,719.2C187.4,721.87 188.82,724.87 192.4,728.2C195.98,731.53 201.47,735.18 206.5,739.2C211.53,743.22 217.57,748.43 222.6,752.3C227.63,756.17 231.3,759.27 236.7,762.4C242.1,765.53 248.85,768 255,771.1C261.15,774.2 267.87,778.27 273.6,781C279.33,783.73 283.83,785.18 289.4,787.5C294.97,789.82 301.5,792.58 307,794.9C312.5,797.22 317.13,799.23 322.4,801.4C327.67,803.57 333.2,805.88 338.6,807.9C344,809.92 350.4,811.97 354.8,813.5C359.2,815.03 359.55,815.17 365,817.1C370.45,819.03 378.38,822.22 387.5,825.1C396.62,827.98 408.87,831.33 419.7,834.4C430.53,837.47 447.03,841.98 452.5,843.5" fill="none" stroke="#993366" stroke-width="1.0" shape-rendering="crispEdges"/>
<path d="M62.7,649.8L62.7,691.9L63.9,704.3L64.8,724.1C65.07,726.57 65.8,733.87 66.4,738.9C67,743.93 67.48,751.17 68.4,754.3C69.32,757.43 70.62,755.97 71.9,757.7C73.18,759.43 74.47,763.07 76.1,764.7C77.73,766.33 79.83,766.57 81.7,767.5C83.57,768.43 85.45,769.13 87.3,770.3C89.15,771.47 90.02,773 92.8,774.5C95.58,776 100.05,778.03 104,779.3C107.95,780.57 112.55,781.12 116.5,782.1C120.45,783.08 124.45,784.03 127.7,785.2C130.95,786.37 133.6,788.03 136,789.1C138.4,790.17 138.07,789.75 142.1,791.6C146.13,793.45 154.5,797.85 160.2,800.2C165.9,802.55 170.93,803.78 176.3,805.7C181.67,807.62 186.7,809.77 192.4,811.7C198.1,813.63 205.13,815.72 210.5,817.3C215.87,818.88 219.23,819.95 224.6,821.2C229.97,822.45 237.63,823.92 242.7,824.8C247.77,825.68 251.72,826.07 255,826.5C258.28,826.93 258.68,827.25 262.4,827.4C266.12,827.55 273.88,827.55 277.3,827.4C280.72,827.25 276.08,826.65 282.9,826.5C289.72,826.35 309.85,826.35 318.2,826.5C326.55,826.65 328.05,826.95 333,827.4C337.95,827.85 343.57,828.43 347.9,829.2C352.23,829.97 352.4,830.83 359,832C365.6,833.17 377.38,834.88 387.5,836.2C397.62,837.52 408.87,838.68 419.7,839.9C430.53,841.12 447.03,842.9 452.5,843.5" fill="none" stroke="#FF00FF" stroke-width="1.0" shape-rendering="crispEdges"/>
<text x="52.2" y="640" font-size="11" text-anchor="end">1,5</text>
<text x="52.2" y="709.5" font-size="11" text-anchor="end">1,0</text>
<text x="52.2" y="778.4" font-size="11" text-anchor="end">0,5</text>
<text x="52.2" y="847.8" font-size="11" text-anchor="end">0,0</text>
<text x="62.5" y="865" font-size="11" text-anchor="middle">0</text>
<text x="257.5" y="865" font-size="11" text-anchor="middle">6</text>
<text x="452.5" y="865" font-size="11" text-anchor="middle">12</text>
<text x="129.5" y="878" font-size="11" text-anchor="start" textLength="254" lengthAdjust="spacingAndGlyphs">The duration of continuous measurements, month</text>
<text transform="translate(26.1,739.8) rotate(-90)" font-size="11" text-anchor="middle" textLength="196" lengthAdjust="spacingAndGlyphs">Coefficient of temporal radon variation</text>
<text transform="translate(42.6,739.8) rotate(-90)" font-size="11" text-anchor="middle">(rel)</text>
<rect x="185" y="447" width="461" height="271" fill="#fff"/>
<rect x="237" y="503" width="13" height="1" fill="#C0C0C0"/>
<rect x="251" y="503" width="13" height="1" fill="#C0C0C0"/>
<rect x="265" y="503" width="13" height="1" fill="#C0C0C0"/>
<rect x="279" y="503" width="13" height="1" fill="#C0C0C0"/>
<rect x="293" y="503" width="13" height="1" fill="#C0C0C0"/>
<rect x="307" y="503" width="13" height="1" fill="#C0C0C0"/>
<rect x="321" y="503" width="13" height="1" fill="#C0C0C0"/>
<rect x="335" y="503" width="12" height="1" fill="#C0C0C0"/>
<rect x="348" y="503" width="13" height="1" fill="#C0C0C0"/>
<rect x="362" y="503" width="13" height="1" fill="#C0C0C0"/>
<rect x="376" y="503" width="13" height="1" fill="#C0C0C0"/>
<rect x="390" y="503" width="13" height="1" fill="#C0C0C0"/>
<rect x="404" y="503" width="13" height="1" fill="#C0C0C0"/>
<rect x="418" y="503" width="13" height="1" fill="#C0C0C0"/>
<rect x="432" y="503" width="13" height="1" fill="#C0C0C0"/>
<rect x="446" y="503" width="13" height="1" fill="#C0C0C0"/>
<rect x="460" y="503" width="13" height="1" fill="#C0C0C0"/>
<rect x="474" y="503" width="13" height="1" fill="#C0C0C0"/>
<rect x="488" y="503" width="13" height="1" fill="#C0C0C0"/>
<rect x="502" y="503" width="13" height="1" fill="#C0C0C0"/>
<rect x="516" y="503" width="13" height="1" fill="#C0C0C0"/>
<rect x="530" y="503" width="12" height="1" fill="#C0C0C0"/>
<rect x="543" y="503" width="13" height="1" fill="#C0C0C0"/>
<rect x="557" y="503" width="13" height="1" fill="#C0C0C0"/>
<rect x="571" y="503" width="13" height="1" fill="#C0C0C0"/>
<rect x="585" y="503" width="13" height="1" fill="#C0C0C0"/>
<rect x="599" y="503" width="13" height="1" fill="#C0C0C0"/>
<rect x="613" y="503" width="13" height="1" fill="#C0C0C0"/>
<rect x="237" y="537" width="13" height="1" fill="#C0C0C0"/>
<rect x="251" y="537" width="13" height="1" fill="#C0C0C0"/>
<rect x="265" y="537" width="13" height="1" fill="#C0C0C0"/>
<rect x="279" y="537" width="13" height="1" fill="#C0C0C0"/>
<rect x="293" y="537" width="13" height="1" fill="#C0C0C0"/>
<rect x="307" y="537" width="13" height="1" fill="#C0C0C0"/>
<rect x="321" y="537" width="13" height="1" fill="#C0C0C0"/>
<rect x="335" y="537" width="12" height="1" fill="#C0C0C0"/>
<rect x="348" y="537" width="13" height="1" fill="#C0C0C0"/>
<rect x="362" y="537" width="13" height="1" fill="#C0C0C0"/>
<rect x="376" y="537" width="13" height="1" fill="#C0C0C0"/>
<rect x="390" y="537" width="13" height="1" fill="#C0C0C0"/>
<rect x="404" y="537" width="13" height="1" fill="#C0C0C0"/>
<rect x="418" y="537" width="13" height="1" fill="#C0C0C0"/>
<rect x="432" y="537" width="13" height="1" fill="#C0C0C0"/>
<rect x="446" y="537" width="13" height="1" fill="#C0C0C0"/>
<rect x="460" y="537" width="13" height="1" fill="#C0C0C0"/>
<rect x="474" y="537" width="13" height="1" fill="#C0C0C0"/>
<rect x="488" y="537" width="13" height="1" fill="#C0C0C0"/>
<rect x="502" y="537" width="13" height="1" fill="#C0C0C0"/>
<rect x="516" y="537" width="13" height="1" fill="#C0C0C0"/>
<rect x="530" y="537" width="12" height="1" fill="#C0C0C0"/>
<rect x="543" y="537" width="13" height="1" fill="#C0C0C0"/>
<rect x="557" y="537" width="13" height="1" fill="#C0C0C0"/>
<rect x="571" y="537" width="13" height="1" fill="#C0C0C0"/>
<rect x="585" y="537" width="13" height="1" fill="#C0C0C0"/>
<rect x="599" y="537" width="13" height="1" fill="#C0C0C0"/>
<rect x="613" y="537" width="13" height="1" fill="#C0C0C0"/>
<rect x="237" y="572" width="13" height="1" fill="#C0C0C0"/>
<rect x="251" y="572" width="13" height="1" fill="#C0C0C0"/>
<rect x="265" y="572" width="13" height="1" fill="#C0C0C0"/>
<rect x="279" y="572" width="13" height="1" fill="#C0C0C0"/>
<rect x="293" y="572" width="13" height="1" fill="#C0C0C0"/>
<rect x="307" y="572" width="13" height="1" fill="#C0C0C0"/>
<rect x="321" y="572" width="13" height="1" fill="#C0C0C0"/>
<rect x="335" y="572" width="12" height="1" fill="#C0C0C0"/>
<rect x="348" y="572" width="13" height="1" fill="#C0C0C0"/>
<rect x="362" y="572" width="13" height="1" fill="#C0C0C0"/>
<rect x="376" y="572" width="13" height="1" fill="#C0C0C0"/>
<rect x="390" y="572" width="13" height="1" fill="#C0C0C0"/>
<rect x="404" y="572" width="13" height="1" fill="#C0C0C0"/>
<rect x="418" y="572" width="13" height="1" fill="#C0C0C0"/>
<rect x="432" y="572" width="13" height="1" fill="#C0C0C0"/>
<rect x="446" y="572" width="13" height="1" fill="#C0C0C0"/>
<rect x="460" y="572" width="13" height="1" fill="#C0C0C0"/>
<rect x="474" y="572" width="13" height="1" fill="#C0C0C0"/>
<rect x="488" y="572" width="13" height="1" fill="#C0C0C0"/>
<rect x="502" y="572" width="13" height="1" fill="#C0C0C0"/>
<rect x="516" y="572" width="13" height="1" fill="#C0C0C0"/>
<rect x="530" y="572" width="12" height="1" fill="#C0C0C0"/>
<rect x="543" y="572" width="13" height="1" fill="#C0C0C0"/>
<rect x="557" y="572" width="13" height="1" fill="#C0C0C0"/>
<rect x="571" y="572" width="13" height="1" fill="#C0C0C0"/>
<rect x="585" y="572" width="13" height="1" fill="#C0C0C0"/>
<rect x="599" y="572" width="13" height="1" fill="#C0C0C0"/>
<rect x="613" y="572" width="13" height="1" fill="#C0C0C0"/>
<rect x="237" y="606" width="13" height="1" fill="#C0C0C0"/>
<rect x="251" y="606" width="13" height="1" fill="#C0C0C0"/>
<rect x="265" y="606" width="13" height="1" fill="#C0C0C0"/>
<rect x="279" y="606" width="13" height="1" fill="#C0C0C0"/>
<rect x="293" y="606" width="13" height="1" fill="#C0C0C0"/>
<rect x="307" y="606" width="13" height="1" fill="#C0C0C0"/>
<rect x="321" y="606" width="13" height="1" fill="#C0C0C0"/>
<rect x="335" y="606" width="12" height="1" fill="#C0C0C0"/>
<rect x="348" y="606" width="13" height="1" fill="#C0C0C0"/>
<rect x="362" y="606" width="13" height="1" fill="#C0C0C0"/>
<rect x="376" y="606" width="13" height="1" fill="#C0C0C0"/>
<rect x="390" y="606" width="13" height="1" fill="#C0C0C0"/>
<rect x="404" y="606" width="13" height="1" fill="#C0C0C0"/>
<rect x="418" y="606" width="13" height="1" fill="#C0C0C0"/>
<rect x="432" y="606" width="13" height="1" fill="#C0C0C0"/>
<rect x="446" y="606" width="13" height="1" fill="#C0C0C0"/>
<rect x="460" y="606" width="13" height="1" fill="#C0C0C0"/>
<rect x="474" y="606" width="13" height="1" fill="#C0C0C0"/>
<rect x="488" y="606" width="13" height="1" fill="#C0C0C0"/>
<rect x="502" y="606" width="13" height="1" fill="#C0C0C0"/>
<rect x="516" y="606" width="13" height="1" fill="#C0C0C0"/>
<rect x="530" y="606" width="12" height="1" fill="#C0C0C0"/>
<rect x="543" y="606" width="13" height="1" fill="#C0C0C0"/>
<rect x="557" y="606" width="13" height="1" fill="#C0C0C0"/>
<rect x="571" y="606" width="13" height="1" fill="#C0C0C0"/>
<rect x="585" y="606" width="13" height="1" fill="#C0C0C0"/>
<rect x="599" y="606" width="13" height="1" fill="#C0C0C0"/>
<rect x="613" y="606" width="13" height="1" fill="#C0C0C0"/>
<rect x="237" y="641" width="13" height="1" fill="#C0C0C0"/>
<rect x="251" y="641" width="13" height="1" fill="#C0C0C0"/>
<rect x="265" y="641" width="13" height="1" fill="#C0C0C0"/>
<rect x="279" y="641" width="13" height="1" fill="#C0C0C0"/>
<rect x="293" y="641" width="13" height="1" fill="#C0C0C0"/>
<rect x="307" y="641" width="13" height="1" fill="#C0C0C0"/>
<rect x="321" y="641" width="13" height="1" fill="#C0C0C0"/>
<rect x="335" y="641" width="12" height="1" fill="#C0C0C0"/>
<rect x="348" y="641" width="13" height="1" fill="#C0C0C0"/>
<rect x="362" y="641" width="13" height="1" fill="#C0C0C0"/>
<rect x="376" y="641" width="13" height="1" fill="#C0C0C0"/>
<rect x="390" y="641" width="13" height="1" fill="#C0C0C0"/>
<rect x="404" y="641" width="13" height="1" fill="#C0C0C0"/>
<rect x="418" y="641" width="13" height="1" fill="#C0C0C0"/>
<rect x="432" y="641" width="13" height="1" fill="#C0C0C0"/>
<rect x="446" y="641" width="13" height="1" fill="#C0C0C0"/>
<rect x="460" y="641" width="13" height="1" fill="#C0C0C0"/>
<rect x="474" y="641" width="13" height="1" fill="#C0C0C0"/>
<rect x="488" y="641" width="13" height="1" fill="#C0C0C0"/>
<rect x="502" y="641" width="13" height="1" fill="#C0C0C0"/>
<rect x="516" y="641" width="13" height="1" fill="#C0C0C0"/>
<rect x="530" y="641" width="12" height="1" fill="#C0C0C0"/>
<rect x="543" y="641" width="13" height="1" fill="#C0C0C0"/>
<rect x="557" y="641" width="13" height="1" fill="#C0C0C0"/>
<rect x="571" y="641" width="13" height="1" fill="#C0C0C0"/>
<rect x="585" y="641" width="13" height="1" fill="#C0C0C0"/>
<rect x="599" y="641" width="13" height="1" fill="#C0C0C0"/>
<rect x="613" y="641" width="13" height="1" fill="#C0C0C0"/>
<rect x="237" y="468" width="69" height="1" fill="#C0C0C0"/>
<rect x="307" y="468" width="208" height="1" fill="#C0C0C0"/>
<rect x="516" y="468" width="111" height="1" fill="#C0C0C0"/>
<rect x="334" y="468" width="1" height="207" fill="#C0C0C0"/>
<rect x="431" y="468" width="1" height="207" fill="#C0C0C0"/>
<rect x="529" y="468" width="1" height="207" fill="#C0C0C0"/>
<rect x="626" y="468" width="1" height="207" fill="#C0C0C0"/>
<rect x="575" y="471" width="49" height="85" fill="#fff"/>
<rect x="236" y="468" width="1" height="212" fill="#000"/>
<rect x="233" y="675" width="394" height="1" fill="#000"/>
<rect x="233" y="468" width="3" height="1" fill="#000"/>
<rect x="233" y="537" width="3" height="1" fill="#000"/>
<rect x="233" y="606" width="3" height="1" fill="#000"/>
<rect x="233" y="675" width="3" height="1" fill="#000"/>
<rect x="250" y="673" width="1" height="2" fill="#000"/>
<rect x="264" y="673" width="1" height="2" fill="#000"/>
<rect x="278" y="673" width="1" height="2" fill="#000"/>
<rect x="292" y="673" width="1" height="2" fill="#000"/>
<rect x="306" y="673" width="1" height="2" fill="#000"/>
<rect x="320" y="673" width="1" height="2" fill="#000"/>
<rect x="334" y="673" width="1" height="7" fill="#000"/>
<rect x="347" y="673" width="1" height="2" fill="#000"/>
<rect x="361" y="673" width="1" height="2" fill="#000"/>
<rect x="375" y="673" width="1" height="2" fill="#000"/>
<rect x="389" y="673" width="1" height="2" fill="#000"/>
<rect x="403" y="673" width="1" height="2" fill="#000"/>
<rect x="417" y="673" width="1" height="2" fill="#000"/>
<rect x="431" y="673" width="1" height="7" fill="#000"/>
<rect x="445" y="673" width="1" height="2" fill="#000"/>
<rect x="459" y="673" width="1" height="2" fill="#000"/>
<rect x="473" y="673" width="1" height="2" fill="#000"/>
<rect x="487" y="673" width="1" height="2" fill="#000"/>
<rect x="501" y="673" width="1" height="2" fill="#000"/>
<rect x="515" y="673" width="1" height="2" fill="#000"/>
<rect x="529" y="673" width="1" height="7" fill="#000"/>
<rect x="542" y="673" width="1" height="2" fill="#000"/>
<rect x="556" y="673" width="1" height="2" fill="#000"/>
<rect x="570" y="673" width="1" height="2" fill="#000"/>
<rect x="584" y="673" width="1" height="2" fill="#000"/>
<rect x="598" y="673" width="1" height="2" fill="#000"/>
<rect x="612" y="673" width="1" height="2" fill="#000"/>
<rect x="626" y="673" width="1" height="7" fill="#000"/>
<path d="M252.2,468.5C252.92,471.6 254.95,481.73 256.5,487.1C258.05,492.47 259.95,496.78 261.5,500.7C263.05,504.62 264.35,507.1 265.8,510.6C267.25,514.1 268.45,518.2 270.2,521.7C271.95,525.2 274.45,528.7 276.3,531.6C278.15,534.5 279.43,536.82 281.3,539.1C283.17,541.38 285.23,543.65 287.5,545.3C289.77,546.95 292.22,547.87 294.9,549C297.58,550.13 300.58,551.22 303.6,552.1C306.62,552.98 310.28,553.57 313,554.3C315.72,555.03 316.28,555.73 319.9,556.5C323.52,557.27 329.75,558.28 334.7,558.9C339.65,559.52 345.88,560.12 349.6,560.2C353.32,560.28 352.88,559.53 357,559.4C361.12,559.27 369.75,558.65 374.3,559.4C378.85,560.15 380.17,561.83 384.3,563.9C388.43,565.97 394.15,569.15 399.1,571.8C404.05,574.45 409.45,577.73 414,579.8C418.55,581.87 422.28,583.13 426.4,584.2C430.52,585.27 435.4,585.78 438.7,586.2C442,586.62 442.65,586.28 446.2,586.7C449.75,587.12 453.32,588.02 460,588.7C466.68,589.38 477.53,589.92 486.3,590.8C495.07,591.68 503.83,593.03 512.6,594C521.37,594.97 528.8,595.73 538.9,596.6C549,597.47 561.78,598.45 573.2,599.2C584.62,599.95 598.52,600.62 607.4,601.1C616.28,601.58 623.32,601.93 626.5,602.1" fill="none" stroke="#FF0000" stroke-width="1.0" shape-rendering="crispEdges"/>
<path d="M237.3,585.8C238.03,586.63 240.15,589.05 241.7,590.8C243.25,592.55 244.95,594.75 246.6,596.3C248.25,597.85 249.73,599.2 251.6,600.1C253.47,601 255.33,601.3 257.8,601.7C260.27,602.1 263.72,601.95 266.4,602.5C269.08,603.05 271.22,604.17 273.9,605C276.58,605.83 279.62,606.73 282.5,607.5C285.38,608.27 287.9,608.88 291.2,609.6C294.5,610.32 298.67,611.17 302.3,611.8C305.93,612.43 308.42,612.83 313,613.4C317.58,613.97 323.7,614.37 329.8,615.2C335.9,616.03 342.18,617.67 349.6,618.4C357.02,619.13 362.75,619.32 374.3,619.6C385.85,619.88 407.75,619.8 418.9,620.1C430.05,620.4 434.35,620.92 441.2,621.4C448.05,621.88 455.12,622.57 460,623C464.88,623.43 466.83,623.67 470.5,624C474.17,624.33 478.25,624.67 482,625C485.75,625.33 489,625.67 493,626C497,626.33 501.2,626.67 506,627C510.8,627.33 517.8,627.75 521.8,628C525.8,628.25 512.55,628.42 530,628.5C547.45,628.58 610.42,628.5 626.5,628.5" fill="none" stroke="#0000FF" stroke-width="1.0" shape-rendering="crispEdges"/>
<path d="M242.3,468.5C242.6,471.18 243.38,478.42 244.1,484.6C244.82,490.78 245.77,499.42 246.6,505.6C247.43,511.78 248.27,516.95 249.1,521.7C249.93,526.45 250.57,531.32 251.6,534.1C252.63,536.88 253.45,536.85 255.3,538.4C257.15,539.95 260.43,541.63 262.7,543.4C264.97,545.17 266.83,546.83 268.9,549C270.97,551.17 273.03,554.33 275.1,556.4C277.17,558.47 278.82,560.05 281.3,561.4C283.78,562.75 286.7,563.48 290,564.5C293.3,565.52 297.27,566.58 301.1,567.5C304.93,568.42 309.87,569.28 313,570C316.13,570.72 316.28,571.08 319.9,571.8C323.52,572.52 328.93,573.27 334.7,574.3C340.47,575.33 347.07,576.77 354.5,578C361.93,579.23 371.03,580.47 379.3,581.7C387.57,582.93 395.35,584.48 404.1,585.4C412.85,586.32 421.65,586.87 431.8,587.2C441.95,587.53 453.72,587.33 465,587.4C476.28,587.47 488.72,587.38 499.5,587.6C510.28,587.82 518.73,588.17 529.7,588.7C540.67,589.23 553.67,590.15 565.3,590.8C576.93,591.45 589.3,591.98 599.5,592.6C609.7,593.22 622,594.18 626.5,594.5" fill="none" stroke="#99CC00" stroke-width="1.0" shape-rendering="crispEdges"/>
<path d="M239.2,468.5C239.5,470.77 240.28,476.73 241,482.1C241.72,487.47 242.67,494.72 243.5,500.7C244.33,506.68 245.17,512.63 246,518C246.83,523.37 248.08,530.42 248.5,532.9L249.7,540.3C250.22,541.95 251.25,547.52 252.8,550.2C254.35,552.88 256.73,554.53 259,556.4C261.27,558.27 263.92,560.05 266.4,561.4C268.88,562.75 271.22,563.72 273.9,564.5C276.58,565.28 279.62,565.75 282.5,566.1C285.38,566.45 288.1,566.2 291.2,566.6C294.3,567 297.47,567.85 301.1,568.5C304.73,569.15 309.87,569.53 313,570.5C316.13,571.47 316.28,572.92 319.9,574.3C323.52,575.68 329.75,577.35 334.7,578.8C339.65,580.25 343,581.77 349.6,583C356.2,584.23 366.05,585.17 374.3,586.2C382.55,587.23 389.52,588.7 399.1,589.2C408.68,589.7 420.82,589.33 431.8,589.2C442.78,589.07 453.72,588.57 465,588.4C476.28,588.23 488.72,588.1 499.5,588.2C510.28,588.3 518.73,588.48 529.7,589C540.67,589.52 553.67,590.47 565.3,591.3C576.93,592.13 589.3,593.25 599.5,594C609.7,594.75 622,595.5 626.5,595.8" fill="none" stroke="#FF6600" stroke-width="1.0" shape-rendering="crispEdges"/>
<path d="M247.2,468.5C247.52,470.57 248.37,476.37 249.1,480.9C249.83,485.43 250.15,491.98 251.6,495.7C253.05,499.42 255.53,501.13 257.8,503.2C260.07,505.27 262.52,506.57 265.2,508.1C267.88,509.63 271.02,510.95 273.9,512.4C276.78,513.85 279.82,515.45 282.5,516.8C285.18,518.15 287.1,519.37 290,520.5C292.9,521.63 296.82,522.62 299.9,523.6C302.98,524.58 305.17,525.47 308.5,526.4C311.83,527.33 315.53,528.03 319.9,529.2C324.27,530.37 328.93,531.67 334.7,533.4C340.47,535.13 347.9,537.73 354.5,539.6C361.1,541.47 367.28,543.35 374.3,544.6C381.32,545.85 389.57,546.48 396.6,547.1C403.63,547.72 410.63,547.9 416.5,548.3C422.37,548.7 427.27,549 431.8,549.5C436.33,550 438.17,550.83 443.7,551.3C449.23,551.77 456.58,551.63 465,552.3C473.42,552.97 483.42,554.42 494.2,555.3C504.98,556.18 517.85,556.82 529.7,557.6C541.55,558.38 553.67,559.33 565.3,560C576.93,560.67 589.3,561.17 599.5,561.6C609.7,562.03 622,562.43 626.5,562.6" fill="none" stroke="#993366" stroke-width="1.0" shape-rendering="crispEdges"/>
<path d="M237.3,579C237.82,580.13 239.27,583.22 240.4,585.8C241.53,588.38 242.65,591.4 244.1,594.5C245.55,597.6 247.23,601.72 249.1,604.4C250.97,607.08 252.82,608.95 255.3,610.6C257.78,612.25 261.12,613.07 264,614.3C266.88,615.53 269.92,616.97 272.6,618C275.28,619.03 277.2,619.67 280.1,620.5C283,621.33 286.5,621.97 290,623C293.5,624.03 297.27,625.57 301.1,626.7C304.93,627.83 308.63,628.92 313,629.8C317.37,630.68 320.38,631.55 327.3,632C334.22,632.45 345.83,632.28 354.5,632.5C363.17,632.72 370.22,632.77 379.3,633.3C388.38,633.83 399.1,635.08 409,635.7C418.9,636.32 430.2,636.72 438.7,637C447.2,637.28 452.62,637.32 460,637.4C467.38,637.48 479.17,637.48 483,637.5L484,638.5C491.67,638.5 522.33,638.5 530,638.5L531,639.5C539.17,639.5 571.83,639.5 580,639.5L581,640.5C588.58,640.5 618.92,640.5 626.5,640.5" fill="none" stroke="#FF00FF" stroke-width="1.0" shape-rendering="crispEdges"/>
<text x="227.4" y="473" font-size="11" text-anchor="end">3,0</text>
<text x="227.4" y="542" font-size="11" text-anchor="end">2,0</text>
<text x="227.4" y="611" font-size="11" text-anchor="end">1,0</text>
<text x="227.4" y="679" font-size="11" text-anchor="end">0,0</text>
<text x="236.5" y="697" font-size="11" text-anchor="middle">0</text>
<text x="334.5" y="697" font-size="11" text-anchor="middle">7</text>
<text x="431.5" y="697" font-size="11" text-anchor="middle">14</text>
<text x="529.5" y="697" font-size="11" text-anchor="middle">21</text>
<text x="626.5" y="697" font-size="11" text-anchor="middle">28</text>
<text x="313" y="709.8" font-size="11" text-anchor="start" textLength="236.5" lengthAdjust="spacingAndGlyphs">The duration of continuous measurements, day</text>
<text transform="translate(200.3,572.6) rotate(-90)" font-size="11" text-anchor="middle" textLength="196" lengthAdjust="spacingAndGlyphs">Coefficient of temporal radon variation</text>
<text transform="translate(216.2,572.1) rotate(-90)" font-size="11" text-anchor="middle">(rel)</text>
<rect x="581" y="478" width="11" height="1" fill="#FF0000"/>
<text x="596.4" y="482" font-size="7.8" text-anchor="start" style="font-family:'DejaVu Sans', sans-serif">ER 7</text>
<rect x="581" y="492" width="11" height="1" fill="#0000FF"/>
<text x="596.4" y="496" font-size="7.8" text-anchor="start" style="font-family:'DejaVu Sans', sans-serif">ER 8</text>
<rect x="581" y="506" width="11" height="1" fill="#99CC00"/>
<text x="596.4" y="510" font-size="7.8" text-anchor="start" style="font-family:'DejaVu Sans', sans-serif">ER 9</text>
<rect x="581" y="520" width="11" height="1" fill="#FF6600"/>
<text x="596.4" y="524" font-size="7.8" text-anchor="start" style="font-family:'DejaVu Sans', sans-serif">ER 10</text>
<rect x="581" y="534" width="11" height="1" fill="#993366"/>
<text x="596.4" y="538" font-size="7.8" text-anchor="start" style="font-family:'DejaVu Sans', sans-serif">ER 11</text>
<rect x="581" y="548" width="11" height="1" fill="#FF00FF"/>
<text x="596.4" y="552" font-size="7.8" text-anchor="start" style="font-family:'DejaVu Sans', sans-serif">ER 12</text>
</svg>
</body></html>
